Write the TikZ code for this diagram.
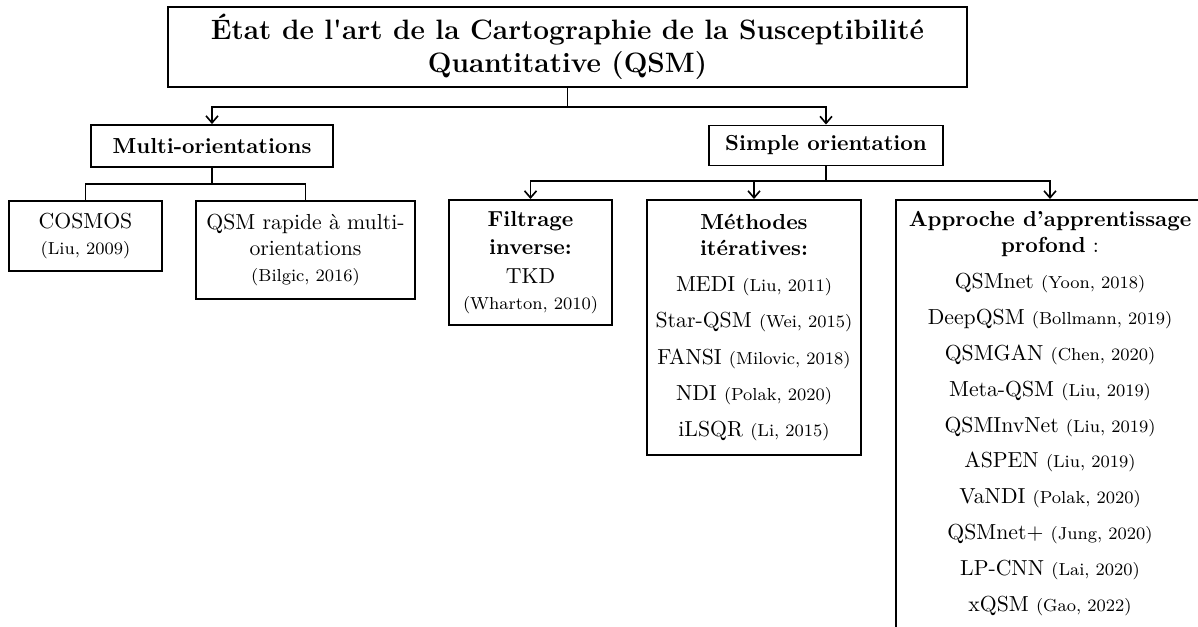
\documentclass[tikz,border=0pt]{standalone}
\usetikzlibrary{arrows.meta}
\begin{document}
\begin{tikzpicture}[x=0.46pt,y=-0.46pt,
  box/.style={draw,line width=0.9pt,align=center,inner sep=0pt},
  conn/.style={line width=0.75pt},
  arr/.style={conn,-{Straight Barb[length=3.2pt,width=5.5pt,line width=0.75pt]}}]
\useasboundingbox (0,0) rectangle (1198,626);
\clip (0,0) rectangle (1198,626);
% boxes
\node[box,minimum width=367.5pt,minimum height=36.8pt,font=\fontsize{12.9}{15.4}\selectfont\bfseries] (title) at (567.5,47)
  {État de l\textquotesingle art de la Cartographie de la Susceptibilité\\Quantitative (QSM)};
\node[box,minimum width=111.3pt,minimum height=19.3pt,font=\bfseries] (multi) at (212,146) {Multi-orientations};
\node[box,minimum width=107.6pt,minimum height=18.4pt,font=\bfseries] (simple) at (826,145.5) {Simple orientation};
\node[box,minimum width=70.4pt,minimum height=32.2pt] (cosmos) at (85.5,236)
  {COSMOS\\{\footnotesize (Liu, 2009)}};
\node[box,minimum width=100.7pt,minimum height=45.1pt] (rapide) at (305.5,250)
  {QSM rapide à multi-\\orientations\\{\footnotesize (Bilgic, 2016)}};
\node[box,minimum width=75pt,minimum height=57.5pt] (filt) at (530.5,262.5)
  {\textbf{Filtrage}\\[1pt]\textbf{inverse:}\\[1pt]TKD\\{\footnotesize (Wharton, 2010)}};
\node[box,minimum width=98.4pt,minimum height=117.3pt] (meth) at (754,327.5)
  {\textbf{Méthodes}\\\textbf{itératives:}\\[4.6pt]
   MEDI {\footnotesize (Liu, 2011)}\\[4.6pt]
   Star-QSM {\footnotesize (Wei, 2015)}\\[4.6pt]
   FANSI {\footnotesize (Milovic, 2018)}\\[4.6pt]
   NDI {\footnotesize (Polak, 2020)}\\[4.6pt]
   iLSQR {\footnotesize (Li, 2015)}};
\node[box,anchor=north,minimum width=141.7pt,inner ysep=5pt,text depth=200pt] (appr) at (1050,199)
  {\textbf{Approche d’apprentissage}\\\textbf{profond} :\\[4.8pt]
   QSMnet {\footnotesize (Yoon, 2018)}\\[4.5pt]
   DeepQSM {\footnotesize (Bollmann, 2019)}\\[4.5pt]
   QSMGAN {\footnotesize (Chen, 2020)}\\[4.5pt]
   Meta-QSM {\footnotesize (Liu, 2019)}\\[4.5pt]
   QSMInvNet {\footnotesize (Liu, 2019)}\\[4.5pt]
   ASPEN {\footnotesize (Liu, 2019)}\\[4.5pt]
   VaNDI {\footnotesize (Polak, 2020)}\\[4.5pt]
   QSMnet+ {\footnotesize (Jung, 2020)}\\[4.5pt]
   LP-CNN {\footnotesize (Lai, 2020)}\\[4.5pt]
   xQSM {\footnotesize (Gao, 2022)}};
% connectors
\coordinate (j1) at (567.5,107);
\draw[conn] (title.south) -- (j1);
\draw[arr] (j1) -| (multi.north);
\draw[arr] (j1) -| (simple.north);
\coordinate (j2) at (212,184);
\draw[conn] (multi.south) -- (j2);
\draw[conn] (j2) -| (cosmos.north);
\draw[conn] (j2) -| (rapide.north);
\coordinate (j3) at (826,181);
\draw[conn] (simple.south) -- (j3);
\draw[arr] (j3) -| (filt.north);
\draw[arr] (j3) -| (meth.north);
\draw[arr] (j3) -| (appr.north);
\end{tikzpicture}
\end{document}
